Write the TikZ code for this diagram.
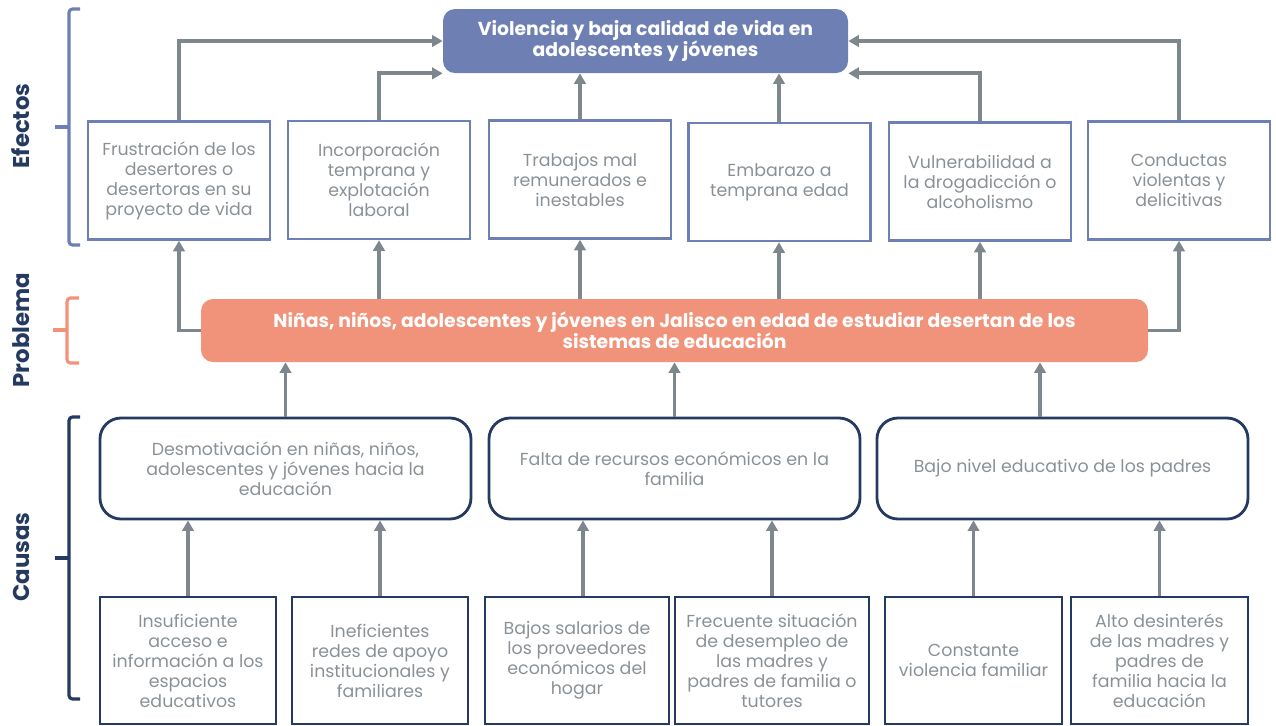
\documentclass[tikz,border=0pt]{standalone}
\usepackage{fontspec}
\setmainfont{Poppins}
\usetikzlibrary{arrows.meta}
\definecolor{cblue}{HTML}{6E7FB3}
\definecolor{csalmon}{HTML}{F1937A}
\definecolor{cnavy}{HTML}{243A60}
\definecolor{carrow}{HTML}{7E878D}
\definecolor{ctext}{HTML}{8A9196}
\def\px{0.02cm}
\tikzset{
  base/.style={align=center, text=ctext, font=\fontsize{9.9}{11.4}\selectfont, inner sep=0pt},
  effbox/.style={base, draw=cblue, line width=1.4pt, minimum width=182*\px, minimum height=118*\px},
  causebox/.style={base, draw=cnavy, line width=1.6pt, rounded corners=0.42cm, minimum width=371*\px, minimum height=101*\px},
  subbox/.style={base, draw=cnavy, line width=1.6pt, minimum height=127*\px},
  titlebox/.style={align=center, text=white, font=\bfseries\fontsize{10.7}{12}\selectfont, rounded corners=0.24cm, inner sep=0pt},
  arr/.style={draw=carrow, line width=2.2pt, -{Triangle[width=6.5pt,length=6pt]}},
  brk/.style={line width=1.8pt, rounded corners=2pt},
  side/.style={rotate=90, text=cnavy, font=\bfseries\fontsize{13}{15}\selectfont}
}
\begin{document}
\begin{tikzpicture}[x=0.02cm, y=-0.02cm]
\useasboundingbox (0,0) rectangle (1276,725);

% title and problem
\node[titlebox, fill=cblue, minimum width=405*\px, minimum height=64*\px] (t) at (645.5,41) {Violencia y baja calidad de vida en\\adolescentes y jóvenes};
\node[titlebox, fill=csalmon, minimum width=947*\px, minimum height=63*\px] (p) at (674.5,330.5) {Niñas, niños, adolescentes y jóvenes en Jalisco en edad de estudiar desertan de los\\sistemas de educación};

% effects
\node[effbox] (e1) at (179,180.5) {Frustración de los\\desertores o\\desertoras en su\\proyecto de vida};
\node[effbox] (e2) at (379,180) {Incorporación\\temprana y\\explotación\\laboral};
\node[effbox] (e3) at (580,179.5) {Trabajos mal\\remunerados e\\inestables};
\node[effbox] (e4) at (779.5,182) {Embarazo a\\temprana edad};
\node[effbox] (e5) at (980,181.5) {Vulnerabilidad a\\la drogadicción o\\alcoholismo};
\node[effbox] (e6) at (1179,180.5) {Conductas\\violentas y\\delicitivas};

% causes
\node[causebox] (c1) at (285.5,468.5) {Desmotivación en niñas, niños,\\adolescentes y jóvenes hacia la\\educación};
\node[causebox] (c2) at (674.5,468.5) {Falta de recursos económicos en la\\familia};
\node[causebox] (c3) at (1062.5,468.5) {Bajo nivel educativo de los padres};

% sub-causes
\node[subbox, minimum width=176*\px] (s1) at (188,660.5) {Insuficiente\\acceso e\\información a los\\espacios\\educativos};
\node[subbox, minimum width=176*\px] (s2) at (380,660.5) {Ineficientes\\redes de apoyo\\institucionales y\\familiares};
\node[subbox, minimum width=184*\px] (s3) at (577,660.5) {Bajos salarios de\\los proveedores\\económicos del\\hogar};
\node[subbox, minimum width=194*\px] (s4) at (772,660.5) {Frecuente situación\\de desempleo de\\las madres y\\padres de familia o\\tutores};
\node[subbox, minimum width=177*\px] (s5) at (973.5,660.5) {Constante\\violencia familiar};
\node[subbox, minimum width=177*\px] (s6) at (1159.5,660.5) {Alto desinterés\\de las madres y\\padres de\\familia hacia la\\educación};

% column coordinates
\coordinate (x583) at (583,0);
\coordinate (x1040) at (1040,0);
\coordinate (x580) at (580,0);
\coordinate (x779) at (779,0);

% effects -> title
\draw[arr] (e1.north) |- (t.west);
\draw[arr] (e2.north) |- (t.south west);
\draw[arr] (e3.north -| x580) -- (t.south -| x580);
\draw[arr] (e4.north -| x779) -- (t.south -| x779);
\draw[arr] (e5.north) |- (t.south east);
\draw[arr] (e6.north) |- (t.east);

% problem -> effects
\draw[arr] (p.west) -| (e1.south);
\draw[arr] (p.north -| e2.south) -- (e2.south);
\draw[arr] (p.north -| x580) -- (e3.south -| x580);
\draw[arr] (p.north -| x779) -- (e4.south -| x779);
\draw[arr] (p.north -| e5.south) -- (e5.south);
\draw[arr] (p.east) -| (e6.south);

% causes -> problem
\draw[arr] (c1.north) -- (c1.north |- p.south);
\draw[arr] (c2.north) -- (c2.north |- p.south);
\draw[arr] (c3.north -| x1040) -- (p.south -| x1040);

% sub-causes -> causes
\draw[arr] (s1.north) -- (s1.north |- c1.south);
\draw[arr] (s2.north) -- (s2.north |- c1.south);
\draw[arr] (s3.north -| x583) -- (c2.south -| x583);
\draw[arr] (s4.north) -- (s4.north |- c2.south);
\draw[arr] (s5.north) -- (s5.north |- c3.south);
\draw[arr] (s6.north) -- (s6.north |- c3.south);

% brackets
\draw[brk, cblue] (80,9) -- (69,9) -- (69,245) -- (80,245);
\draw[brk, cblue] (55,127) -- (69,127);
\draw[brk, csalmon] (79,298) -- (67,298) -- (67,363) -- (79,363);
\draw[brk, csalmon] (53,330) -- (67,330);
\draw[brk, cnavy] (80,417) -- (69,417) -- (69,699) -- (80,699);
\draw[brk, cnavy] (55,558) -- (69,558);

% side labels
\node[side] (le) at (21,126) {Efectos};
\node[side] (lp) at (21,330) {Problema};
\node[side] (lc) at (21,557) {Causas};
\end{tikzpicture}
\end{document}
